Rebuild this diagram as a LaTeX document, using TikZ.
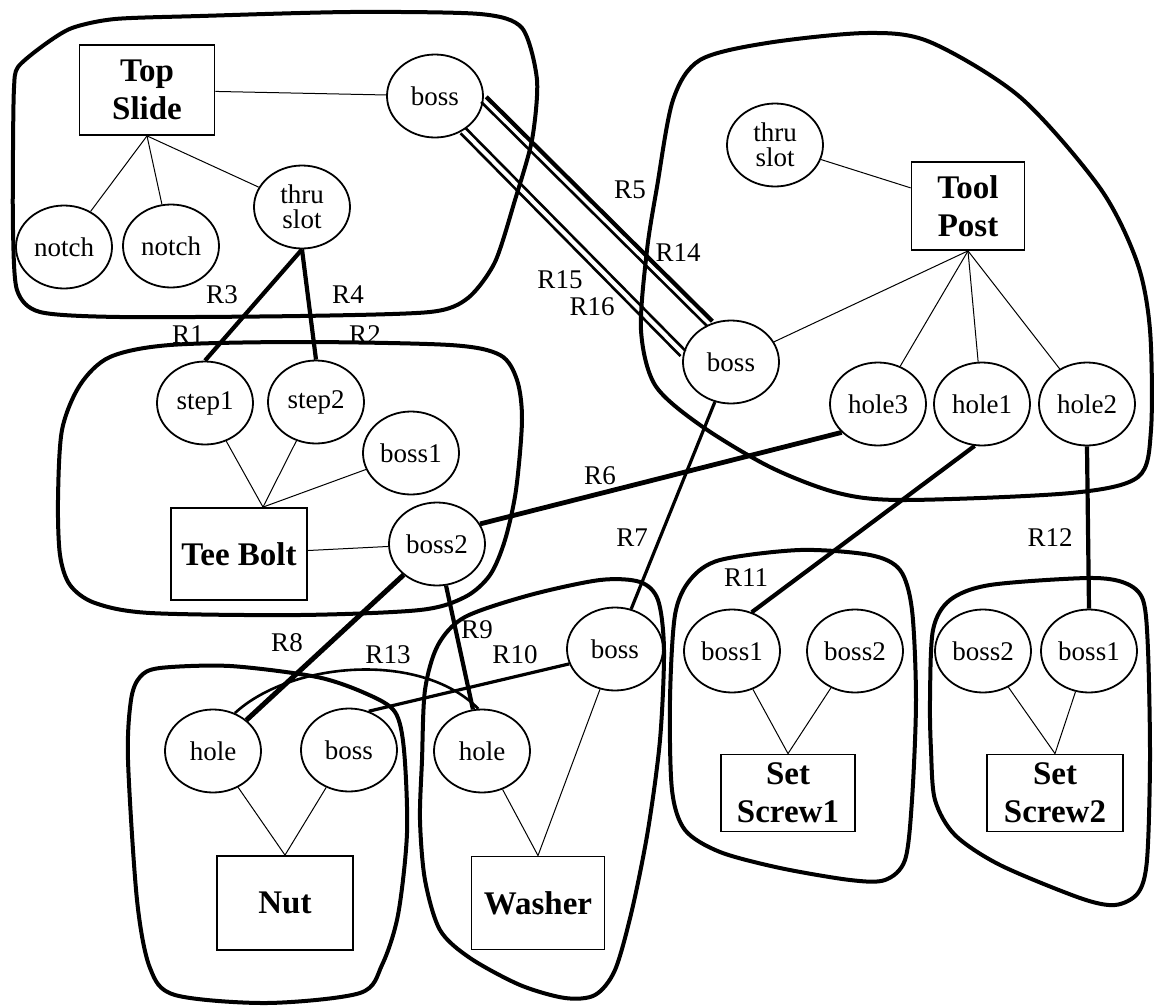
\documentclass[tikz,border=0pt]{standalone}
\usepackage{fontspec}
\setmainfont{Liberation Serif}
\usepackage{tikz}
\usetikzlibrary{calc,shapes.geometric}

\begin{document}
\begin{tikzpicture}[x=0.5pt,y=-0.5pt,
  part/.style={ellipse,draw,line width=0.9pt,inner sep=0pt,minimum width=48pt,minimum height=41.5pt,align=center,font=\fontsize{13.5}{12.5}\selectfont},
  comp/.style={rectangle,draw,line width=0.9pt,inner sep=0pt,align=center,font=\fontsize{16.5}{19}\selectfont\bfseries},
  grp/.style={line width=2pt,line join=round},
  has/.style={line width=0.5pt},
  rel/.style={line width=2.1pt},
  relthin/.style={line width=1.3pt}]
\useasboundingbox (0,0) rectangle (1158,1007);

%%% GROUP OUTLINES
% top slide
\draw[grp] plot[smooth cycle,tension=0.45] coordinates {(13,150) (14,88) (18,67) (44,45) (72,28) (115,19) (200,16) (350,12) (480,14) (522,28) (537,80) (532,140) (515,200) (495,262) (468,298) (430,312) (300,316) (120,317) (40,312) (17,290) (13,230)};
% tool post
\draw[grp] plot[smooth cycle,tension=0.5] coordinates {(641,330) (647,250) (657,187) (673,100) (700,60) (767,43) (867,33) (930,42) (1020,97) (1100,188) (1137,262) (1150,330) (1151,430) (1138,477) (1071,493) (905,500) (838,493) (770,467) (700,425) (655,385)};
% tee bolt
\draw[grp] plot[smooth cycle,tension=0.5] coordinates {(58,500) (62,430) (80,385) (110,357) (170,345) (300,342) (450,345) (500,355) (517,380) (522,420) (516,490) (505,540) (490,575) (465,597) (420,610) (300,615) (150,613) (95,603) (70,585) (60,555)};
% nut
\draw[grp] plot[smooth cycle,tension=0.5] coordinates {(128,760) (131,700) (140,677) (160,668) (230,666) (317,677) (367,694) (395,712) (404,750) (407,833) (398,915) (382,965) (360,993) (267,1003) (175,995) (150,968) (137,900)};
% washer
\draw[grp] plot[smooth cycle,tension=0.5] coordinates {(422,760) (425,690) (438,645) (465,617) (530,595) (600,580) (640,582) (658,600) (664,650) (660,740) (648,830) (632,910) (615,970) (595,995) (565,998) (520,985) (470,958) (440,930) (425,880) (420,820)};
% set screws
\draw[grp] plot[smooth cycle,tension=0.5] coordinates {(670,700) (675,615) (690,580) (720,560) (800,550) (870,555) (900,570) (912,610) (916,700) (912,800) (905,860) (885,880) (850,880) (780,868) (720,852) (685,830) (672,790)};
\draw[grp] plot[smooth cycle,tension=0.5] coordinates {(930,700) (933,630) (950,600) (990,585) (1088,578) (1125,583) (1143,600) (1148,650) (1150,760) (1147,860) (1138,893) (1115,905) (1080,898) (1000,865) (955,835) (935,800) (931,750)};

%%% COMPONENTS
\node[comp,minimum width=67.5pt,minimum height=45pt] (ts) at (147,90) {Top\\Slide};
\node[comp,minimum width=56.5pt,minimum height=44pt] (tp) at (968,206) {Tool\\Post};
\node[comp,minimum width=68pt,minimum height=46pt] (tb) at (239,554) {Tee Bolt};
\node[comp,minimum width=68pt,minimum height=47pt] (nut) at (285,903) {Nut};
\node[comp,minimum width=66.5pt,minimum height=46.5pt] (wsh) at (538,903) {Washer};
\node[comp,minimum width=67pt,minimum height=38.5pt] (ssa) at (788,793) {Set\\Screw1};
\node[comp,minimum width=68pt,minimum height=38.5pt] (ssb) at (1055,793) {Set\\Screw2};

%%% FEATURES
\node[part] (tsboss) at (435,96) {boss};
\node[part] (tsnotcha) at (64,247) {notch};
\node[part] (tsnotchb) at (171,246) {notch};
\node[part] (tsslot) at (302,207) {thru\\slot};

\node[part] (tpslot) at (775,145) {thru\\slot};
\node[part] (tpboss) at (731,362) {boss};
\node[part] (tphole3) at (878,404) {hole3};
\node[part] (tphole1) at (982,404) {hole1};
\node[part] (tphole2) at (1087,404) {hole2};

\node[part] (tbstep1) at (205,403) {step1};
\node[part] (tbstep2) at (316,402) {step2};
\node[part] (tbboss1) at (411,453) {boss1};
\node[part] (tbboss2) at (437,544) {boss2};

\node[part] (nuthole) at (213,751) {hole};
\node[part] (nutboss) at (349,750) {boss};
\node[part] (wshhole) at (482,751) {hole};
\node[part] (wshboss) at (615,649) {boss};

\node[part] (ssaboss1) at (732,651) {boss1};
\node[part] (ssaboss2) at (855,651) {boss2};
\node[part] (ssbboss2) at (983,651) {boss2};
\node[part] (ssbboss1) at (1089,651) {boss1};

%%% PART-OF LINKS
\draw[has] (ts) -- (tsboss);
\foreach \f in {tsnotcha,tsnotchb,tsslot}
  \draw[has] (ts.south) -- (\f);
\draw[has] (tpslot) -- (tp);
\foreach \f in {tpboss,tphole3,tphole1,tphole2}
  \draw[has] (tp.south) -- (\f);
\coordinate (tbtop) at ([xshift=12pt]tb.north);
\foreach \f in {tbstep1,tbstep2,tbboss1}
  \draw[has] (tbtop) -- (\f);
\draw[has] (tb) -- (tbboss2);
\foreach \f in {nuthole,nutboss}
  \draw[has] (nut.north) -- (\f);
\foreach \f in {wshhole,wshboss}
  \draw[has] (wsh.north) -- (\f);
\foreach \f in {ssaboss1,ssaboss2}
  \draw[has] (ssa.north) -- (\f);
\foreach \f in {ssbboss2,ssbboss1}
  \draw[has] (ssb.north) -- (\f);

%%% RELATIONS
\draw[rel] (tsslot.south) -- (tbstep1.north);
\draw[rel] (tsslot.south) -- (tbstep2.north);
\draw[rel,line width=2.4pt] (tbboss2.25) -- (tphole3.218);
\draw[relthin,line width=1.6pt] (tpboss) -- (wshboss);
\draw[rel,line width=2.5pt] (tbboss2) -- (nuthole);
\draw[rel] (tbboss2) -- (wshhole);
\draw[relthin,line width=1.6pt] (nutboss.63) -- (wshboss.198);
\draw[rel] (tphole1.260) -- (ssaboss1.63);
\draw[rel] (tphole2.south) -- (ssbboss1.north);
\draw[relthin] (nuthole.60) .. controls (290,662) and (420,650) .. (wshhole.95);

% the two boss pairs
\coordinate (ua) at (tsboss.-4);
\coordinate (ub) at (tpboss.119);
\coordinate (la) at (tsboss.-51);
\coordinate (lb) at (tpboss.170);
\draw[rel] ($(ua)!1.8pt!90:(ub)$) -- ($(ub)!1.8pt!-90:(ua)$);
\draw[relthin] ($(ua)!1.8pt!-90:(ub)$) -- ($(ub)!1.8pt!90:(ua)$);
\draw[relthin] ($(la)!1.8pt!90:(lb)$) -- ($(lb)!1.8pt!-90:(la)$);
\draw[relthin] ($(la)!1.8pt!-90:(lb)$) -- ($(lb)!1.8pt!90:(la)$);

%%% RELATION LABELS
\foreach \t/\x/\y in {R1/188/335,R2/365/335,R3/222/295,R4/348/295,R5/630/190,R14/678/253,R15/560/280,R16/592/307,R6/600/476,R7/632/538,R8/287/643,R9/477/630,R10/515/655,R11/746/578,R12/1050/538,R13/388/655}
  \node[font=\fontsize{13.5}{13.5}\selectfont,inner sep=0pt] (l\t) at (\x,\y) {\t};
\end{tikzpicture}
\end{document}
